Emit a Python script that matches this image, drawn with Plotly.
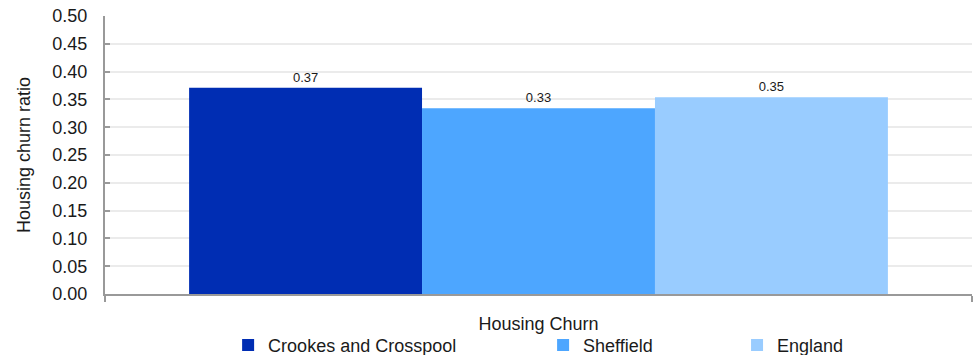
import plotly.graph_objects as go

categories = ["Housing Churn"]
series_names = ["Crookes and Crosspool", "Sheffield", "England"]
series_values = [[0.371], [0.334], [0.354]]
series_labels = [["0.37"], ["0.33"], ["0.35"]]
colors = ["#002DB3", "#4DA6FF", "#99CCFF"]
y_ticks = [0.00, 0.05, 0.10, 0.15, 0.20, 0.25, 0.30, 0.35, 0.40, 0.45, 0.50]

FONT = "Liberation Sans, Arial, sans-serif"
TXT = "#1a1a1a"
AX = "#999999"
FS = 18
legend_ids = ["legend", "legend2", "legend3"]
legend_x = [0.142, 0.5053, 0.729]

fig = go.Figure()
for i, name in enumerate(series_names):
    fig.add_trace(go.Bar(
        x=categories, y=series_values[i], name=name,
        marker=dict(color=colors[i], line=dict(width=0)),
        text=series_labels[i], textposition="outside",
        textfont=dict(size=13, color=TXT, family=FONT),
        cliponaxis=False,
        legend=legend_ids[i],
    ))

layout_legends = {}
for i, lid in enumerate(legend_ids):
    layout_legends[lid] = dict(
        x=legend_x[i], y=-0.118, xanchor="left", yanchor="top",
        orientation="h", font=dict(size=FS, color=TXT, family=FONT),
        bgcolor="rgba(0,0,0,0)", borderwidth=0, tracegroupgap=0,
        itemwidth=30,
    )

fig.update_layout(
    width=973, height=355,
    margin=dict(l=105, r=1, t=16, b=61, autoexpand=False),
    paper_bgcolor="white", plot_bgcolor="white",
    barmode="group", bargap=0.194, bargroupgap=0,
    font=dict(family=FONT, size=FS, color=TXT),
    showlegend=True,
    xaxis=dict(
        type="category", tickson="boundaries", ticks="outside", ticklen=6,
        tickcolor=AX, tickwidth=2,
        showline=True, linecolor=AX, linewidth=2,
        showgrid=True, gridcolor="#EBEBEB", gridwidth=1,
        tickfont=dict(size=FS, color=TXT, family=FONT),
        ticklabelstandoff=12,
        range=[-0.5, 0.5], automargin=False,
    ),
    yaxis=dict(
        range=[0, 0.5], tickvals=y_ticks, tickformat=".2f",
        ticks="inside", ticklen=5, tickcolor=AX, tickwidth=2,
        showline=True, linecolor=AX, linewidth=2,
        showgrid=True, gridcolor="#EBEBEB", gridwidth=2,
        zeroline=False, automargin=False,
        ticklabelstandoff=12,
        tickfont=dict(size=FS, color=TXT, family=FONT),
        title=dict(text="Housing churn ratio", font=dict(size=FS, color=TXT, family=FONT), standoff=17),
    ),
    **layout_legends,
)

fig.write_html(
    "out.html",
    config={"displayModeBar": False},
    post_script="document.body.style.margin='0px';document.body.style.overflow='hidden';",
)
